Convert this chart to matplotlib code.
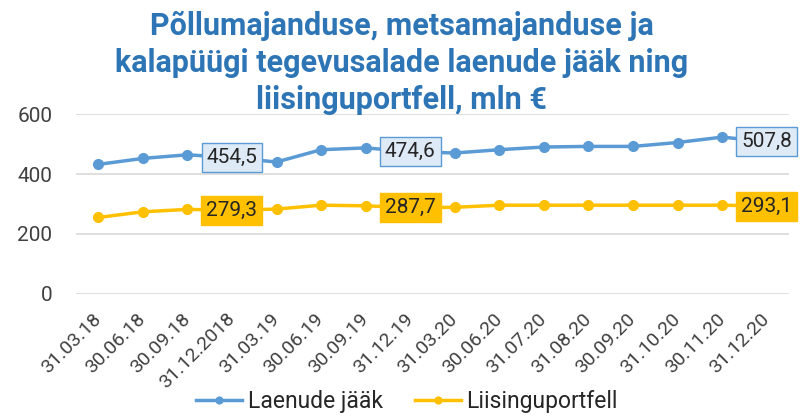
import matplotlib.pyplot as plt
from matplotlib.transforms import ScaledTranslation

plt.rcParams['font.family'] = ['Roboto', 'DejaVu Sans']

dates = ['31.03.18', '30.06.18', '30.09.18', '31.12.2018', '31.03.19', '30.06.19',
         '30.09.19', '31.12.19', '31.03.20', '30.06.20', '31.07.20', '31.08.20',
         '30.09.20', '31.10.20', '30.11.20', '31.12.20']
laenud = [432, 452, 464, 454.5, 440, 481, 487, 474.6, 470, 481, 490, 492, 492, 505, 523, 507.8]
liising = [255, 274, 282, 279.3, 283, 296, 294, 287.7, 289, 296, 296, 296, 296, 296, 296, 293.1]
labelled = [3, 7, 15]

blue = '#5B9BD5'
yellow = '#FFC000'
txt = '#404040'

fig = plt.figure(figsize=(8.03, 4.17), dpi=100)
ax = fig.add_axes([0.0946, 0.295, 0.888, 0.4316])

x = range(len(dates))
ax.plot(x, laenud, color=blue, lw=2.5, marker='o', ms=7, label='Laenude jääk', zorder=3)
ax.plot(x, liising, color=yellow, lw=2.5, marker='o', ms=7, label='Liisinguportfell', zorder=3)

# andmesildid
for i in labelled:
    ax.text(i, laenud[i], f'{laenud[i]:.1f}'.replace('.', ','), ha='center', va='center',
            fontsize=15, color='#262626', zorder=5,
            bbox=dict(boxstyle='square,pad=0.24', fc='#DEEBF7', ec=blue, lw=1))
    ax.text(i, liising[i], f'{liising[i]:.1f}'.replace('.', ','), ha='center', va='center',
            fontsize=15, color='#262626', zorder=5,
            bbox=dict(boxstyle='square,pad=0.24', fc=yellow, ec=yellow, lw=1))

ax.set_xlim(-0.5, len(dates) - 0.5)
ax.set_ylim(0, 600)
ax.set_yticks([0, 200, 400, 600])
ax.set_xticks(list(x))
ax.set_xticklabels(dates, rotation=45, ha='right', va='center', rotation_mode='anchor',
                   fontsize=14, color=txt)
shift = ScaledTranslation(5 / 72, 0, fig.dpi_scale_trans)
for lab in ax.get_xticklabels():
    lab.set_transform(lab.get_transform() + shift)
ax.tick_params(axis='y', labelsize=15, labelcolor=txt, length=0, pad=17)
ax.tick_params(axis='x', length=0, pad=16)
ax.grid(axis='y', color='#D9D9D9', lw=1.2)
ax.set_axisbelow(True)
for s in ax.spines.values():
    s.set_visible(False)

fig.text(0.5, 0.975, 'Põllumajanduse, metsamajanduse ja\nkalapüügi tegevusalade laenude jääk ning\nliisinguportfell, mln €',
         ha='center', va='top', fontsize=22, fontweight='bold', color='#2E75B6', linespacing=1.3)

fig.legend(loc='center', bbox_to_anchor=(0.507, 0.036), ncol=2, frameon=False,
           fontsize=16.5, handlelength=2.0, handletextpad=0.25, columnspacing=1.4,
           labelcolor='#262626', markerscale=0.7)

fig.savefig('out.png', dpi=100)
